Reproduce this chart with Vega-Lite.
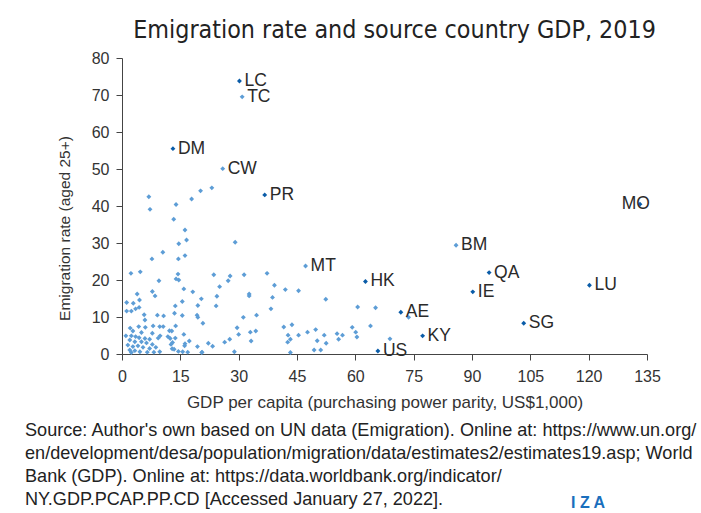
{
  "$schema": "https://vega.github.io/schema/vega-lite/v6.json",
  "autosize": {"type": "pad"},
  "padding": {"left": 25, "top": 18, "right": 5, "bottom": 5},
  "background": "white",
  "config": {
    "view": {"stroke": null},
    "font": "Liberation Sans",
    "axis": {"labelFont": "Liberation Sans", "titleFont": "Liberation Sans", "labelColor": "#333333", "titleColor": "#333333", "domainColor": "#444444", "tickColor": "#444444", "grid": false, "labelFontSize": 16, "titleFontSize": 15.5, "titleFontWeight": "normal", "labelFlush": false}
  },
  "title": {"text": "I Z A", "orient": "bottom", "anchor": "start", "color": "#1a6fbd", "fontSize": 16, "fontWeight": "bold", "font": "Liberation Sans", "dx": 546, "offset": -14},
  "vconcat": [
    {
      "title": {
        "text": ["Source: Author's own based on UN data (Emigration). Online at: https://www.un.org/", "en/development/desa/population/migration/data/estimates2/estimates19.asp; World", "Bank (GDP). Online at: https://data.worldbank.org/indicator/", "NY.GDP.PCAP.PP.CD [Accessed January 27, 2022]."],
        "orient": "bottom", "anchor": "start", "frame": "group", "dx": -97, "offset": 12,
        "fontSize": 18.1, "fontWeight": "normal", "color": "#222222", "lineHeight": 23, "font": "Liberation Sans"
      },
      "vconcat": [
        {
          "title": {"text": "Emigration rate and source country GDP, 2019", "anchor": "middle", "frame": "group", "dx": 10, "offset": 7, "fontSize": 24.8, "fontWeight": "normal", "color": "#222222", "font": "DejaVu Sans Condensed"},
          "width": 525,
          "height": 296,
          "data": {"values": [
            {"c": "LC", "g": 30.2, "e": 73.8, "h": "yes"},
            {"c": "TC", "g": 30.9, "e": 69.5, "h": "no"},
            {"c": "DM", "g": 13.1, "e": 55.5, "h": "yes"},
            {"c": "CW", "g": 25.9, "e": 50.1, "h": "no"},
            {"c": "PR", "g": 36.7, "e": 43.0, "h": "yes"},
            {"c": "MT", "g": 47.2, "e": 23.8, "h": "no"},
            {"c": "HK", "g": 62.6, "e": 19.6, "h": "yes"},
            {"c": "BM", "g": 85.9, "e": 29.4, "h": "no"},
            {"c": "QA", "g": 94.4, "e": 22.0, "h": "yes"},
            {"c": "IE", "g": 90.2, "e": 16.8, "h": "yes"},
            {"c": "LU", "g": 120.2, "e": 18.6, "h": "yes"},
            {"c": "AE", "g": 71.7, "e": 11.3, "h": "yes"},
            {"c": "KY", "g": 77.3, "e": 4.9, "h": "yes"},
            {"c": "SG", "g": 103.3, "e": 8.3, "h": "yes"},
            {"c": "US", "g": 65.8, "e": 0.8, "h": "yes"},
            {"c": "MO", "g": 133.2, "e": 40.5, "h": "yes"},
            {"g": 6.9, "e": 42.5, "h": "no"}, {"g": 23.1, "e": 44.9, "h": "no"}, {"g": 20.2, "e": 44.1, "h": "no"},
            {"g": 17.9, "e": 41.9, "h": "no"}, {"g": 13.9, "e": 40.4, "h": "no"}, {"g": 7.2, "e": 39.1, "h": "no"},
            {"g": 13.3, "e": 36.4, "h": "no"}, {"g": 16.2, "e": 33.5, "h": "no"}, {"g": 14.6, "e": 29.8, "h": "no"},
            {"g": 16.6, "e": 30.8, "h": "no"}, {"g": 29.1, "e": 30.2, "h": "no"}, {"g": 10.5, "e": 27.5, "h": "no"},
            {"g": 7.7, "e": 25.7, "h": "no"}, {"g": 14.5, "e": 25.7, "h": "no"}, {"g": 16.2, "e": 26.6, "h": "no"},
            {"g": 2.3, "e": 21.8, "h": "no"}, {"g": 4.7, "e": 22.2, "h": "no"}, {"g": 14.4, "e": 21.6, "h": "no"},
            {"g": 23.6, "e": 21.4, "h": "no"}, {"g": 27.8, "e": 21.1, "h": "no"}, {"g": 31.4, "e": 21.4, "h": "no"},
            {"g": 9.5, "e": 19.8, "h": "no"}, {"g": 13.9, "e": 20.3, "h": "no"}, {"g": 14.6, "e": 20.0, "h": "no"},
            {"g": 27.3, "e": 19.8, "h": "no"}, {"g": 25.1, "e": 18.2, "h": "no"}, {"g": 15.9, "e": 17.6, "h": "no"},
            {"g": 7.8, "e": 16.9, "h": "no"}, {"g": 18.2, "e": 16.8, "h": "no"}, {"g": 3.9, "e": 16.2, "h": "no"},
            {"g": 8.5, "e": 15.7, "h": "no"}, {"g": 24.4, "e": 15.6, "h": "no"}, {"g": 1.2, "e": 13.9, "h": "no"},
            {"g": 2.9, "e": 13.7, "h": "no"}, {"g": 4.5, "e": 14.6, "h": "no"}, {"g": 20.4, "e": 14.9, "h": "no"},
            {"g": 15.5, "e": 14.2, "h": "no"}, {"g": 1.2, "e": 11.6, "h": "no"}, {"g": 2.4, "e": 11.6, "h": "no"},
            {"g": 3.5, "e": 12.2, "h": "no"}, {"g": 4.4, "e": 12.6, "h": "no"}, {"g": 13.7, "e": 13.0, "h": "no"},
            {"g": 19.5, "e": 13.1, "h": "no"}, {"g": 24.2, "e": 13.0, "h": "no"}, {"g": 5.7, "e": 10.6, "h": "no"},
            {"g": 13.5, "e": 11.0, "h": "no"}, {"g": 15.5, "e": 10.4, "h": "no"}, {"g": 19.3, "e": 10.5, "h": "no"},
            {"g": 19.5, "e": 9.9, "h": "no"}, {"g": 20.8, "e": 8.3, "h": "no"}, {"g": 31.2, "e": 9.9, "h": "no"},
            {"g": 5.9, "e": 9.2, "h": "no"}, {"g": 10.7, "e": 10.3, "h": "no"}, {"g": 29.6, "e": 7.1, "h": "no"},
            {"g": 30.0, "e": 5.3, "h": "no"}, {"g": 37.3, "e": 21.8, "h": "no"}, {"g": 39.2, "e": 18.6, "h": "no"},
            {"g": 42.0, "e": 17.4, "h": "no"}, {"g": 45.4, "e": 17.1, "h": "no"}, {"g": 32.7, "e": 16.2, "h": "no"},
            {"g": 32.7, "e": 15.7, "h": "no"}, {"g": 38.7, "e": 15.3, "h": "no"}, {"g": 52.4, "e": 14.8, "h": "no"},
            {"g": 38.3, "e": 12.2, "h": "no"}, {"g": 60.6, "e": 12.7, "h": "no"}, {"g": 65.2, "e": 12.5, "h": "no"},
            {"g": 34.6, "e": 10.5, "h": "no"}, {"g": 33.0, "e": 5.9, "h": "no"}, {"g": 34.4, "e": 6.2, "h": "no"},
            {"g": 33.2, "e": 3.5, "h": "no"}, {"g": 41.6, "e": 7.3, "h": "no"}, {"g": 43.7, "e": 7.9, "h": "no"},
            {"g": 42.7, "e": 5.1, "h": "no"}, {"g": 43.3, "e": 4.0, "h": "no"}, {"g": 42.6, "e": 3.2, "h": "no"},
            {"g": 45.4, "e": 5.1, "h": "no"}, {"g": 47.7, "e": 5.9, "h": "no"}, {"g": 49.8, "e": 6.6, "h": "no"},
            {"g": 50.2, "e": 3.6, "h": "no"}, {"g": 52.0, "e": 5.1, "h": "no"}, {"g": 52.5, "e": 2.9, "h": "no"},
            {"g": 55.3, "e": 5.5, "h": "no"}, {"g": 56.7, "e": 5.1, "h": "no"}, {"g": 55.7, "e": 4.0, "h": "no"},
            {"g": 59.2, "e": 7.2, "h": "no"}, {"g": 60.1, "e": 5.9, "h": "no"}, {"g": 60.4, "e": 4.6, "h": "no"},
            {"g": 63.9, "e": 7.6, "h": "no"}, {"g": 28.9, "e": 0.6, "h": "no"}, {"g": 43.3, "e": 0.4, "h": "no"},
            {"g": 49.4, "e": 1.1, "h": "no"}, {"g": 51.1, "e": 1.1, "h": "no"}, {"g": 68.9, "e": 4.1, "h": "no"},
            {"g": 73.7, "e": 9.9, "h": "no"}, {"g": 26.4, "e": 3.2, "h": "no"}, {"g": 27.7, "e": 4.0, "h": "no"},
            {"g": 22.2, "e": 2.9, "h": "no"}, {"g": 23.3, "e": 2.1, "h": "no"}, {"g": 20.5, "e": 0.4, "h": "no"},
            {"g": 10.6, "e": 7.4, "h": "no"}, {"g": 13.8, "e": 7.6, "h": "no"}, {"g": 12.2, "e": 6.3, "h": "no"},
            {"g": 12.8, "e": 6.2, "h": "no"}, {"g": 9.8, "e": 4.9, "h": "no"}, {"g": 11.8, "e": 4.7, "h": "no"},
            {"g": 12.4, "e": 4.2, "h": "no"}, {"g": 13.7, "e": 4.3, "h": "no"}, {"g": 15.9, "e": 5.3, "h": "no"},
            {"g": 13.0, "e": 3.1, "h": "no"}, {"g": 12.6, "e": 2.6, "h": "no"}, {"g": 16.2, "e": 2.8, "h": "no"},
            {"g": 16.1, "e": 2.2, "h": "no"}, {"g": 17.3, "e": 3.5, "h": "no"}, {"g": 12.9, "e": 1.4, "h": "no"},
            {"g": 13.4, "e": 1.3, "h": "no"}, {"g": 15.6, "e": 0.6, "h": "no"}, {"g": 14.5, "e": 0.7, "h": "no"},
            {"g": 16.9, "e": 0.5, "h": "no"}, {"g": 19.4, "e": 2.0, "h": "no"}, {"g": 20.6, "e": 0.5, "h": "no"},
            {"g": 9.1, "e": 10.5, "h": "no"}, {"g": 2.1, "e": 7.0, "h": "no"}, {"g": 4.3, "e": 7.4, "h": "no"},
            {"g": 6.0, "e": 7.2, "h": "no"}, {"g": 8.0, "e": 7.6, "h": "no"}, {"g": 9.7, "e": 7.4, "h": "no"},
            {"g": 2.8, "e": 6.2, "h": "no"}, {"g": 5.0, "e": 5.8, "h": "no"}, {"g": 7.8, "e": 5.6, "h": "no"},
            {"g": 1.0, "e": 4.9, "h": "no"}, {"g": 2.4, "e": 4.9, "h": "no"}, {"g": 3.5, "e": 4.7, "h": "no"},
            {"g": 4.4, "e": 4.4, "h": "no"}, {"g": 5.9, "e": 4.2, "h": "no"}, {"g": 7.1, "e": 4.0, "h": "no"},
            {"g": 9.3, "e": 4.3, "h": "no"}, {"g": 2.0, "e": 3.8, "h": "no"}, {"g": 3.3, "e": 3.3, "h": "no"},
            {"g": 5.0, "e": 3.3, "h": "no"}, {"g": 6.3, "e": 3.0, "h": "no"}, {"g": 7.8, "e": 2.6, "h": "no"},
            {"g": 1.5, "e": 2.4, "h": "no"}, {"g": 2.8, "e": 2.0, "h": "no"}, {"g": 4.1, "e": 2.2, "h": "no"},
            {"g": 5.4, "e": 1.8, "h": "no"}, {"g": 7.1, "e": 1.5, "h": "no"}, {"g": 8.7, "e": 1.8, "h": "no"},
            {"g": 2.0, "e": 1.1, "h": "no"}, {"g": 3.3, "e": 0.9, "h": "no"}, {"g": 4.6, "e": 0.6, "h": "no"},
            {"g": 6.5, "e": 0.5, "h": "no"}, {"g": 8.2, "e": 0.5, "h": "no"}, {"g": 9.7, "e": 0.6, "h": "no"},
            {"g": 2.4, "e": 0.4, "h": "no"}
          ]},
          "encoding": {
            "x": {"field": "g", "type": "quantitative", "scale": {"domain": [0, 135], "nice": false}, "axis": {"values": [0, 15, 30, 45, 60, 75, 90, 105, 120, 135], "title": "GDP per capita (purchasing power parity, US$1,000)", "titleFontSize": 17, "tickSize": 6, "labelPadding": 8, "titlePadding": 10}},
            "y": {"field": "e", "type": "quantitative", "scale": {"domain": [0, 80], "nice": false}, "axis": {"values": [0, 10, 20, 30, 40, 50, 60, 70, 80], "title": "Emigration rate (aged 25+)", "titleFontSize": 15.5, "tickSize": 6, "labelPadding": 7, "titlePadding": 19, "titleY": 170}}
          },
          "layer": [
            {
              "mark": {"type": "point", "shape": "diamond", "filled": true, "size": 24, "opacity": 1},
              "encoding": {
                "color": {"field": "h", "type": "nominal", "scale": {"domain": ["yes", "no"], "range": ["#0a5ca8", "#5d9dd6"]}, "legend": null},
                "order": {"field": "h", "type": "nominal", "sort": "ascending"}
              }
            },
            {
              "transform": [{"filter": "datum.c != null && datum.c != 'MO'"}],
              "mark": {"type": "text", "align": "left", "baseline": "middle", "dx": 5, "fontSize": 17.5, "color": "#2a2a2a", "font": "Liberation Sans"},
              "encoding": {"text": {"field": "c"}}
            },
            {
              "transform": [{"filter": "datum.c == 'MO'"}],
              "mark": {"type": "text", "align": "right", "baseline": "middle", "dx": 10, "fontSize": 17.5, "color": "#2a2a2a", "font": "Liberation Sans"},
              "encoding": {"text": {"field": "c"}}
            }
          ]
        }
      ]
    }
  ]
}
